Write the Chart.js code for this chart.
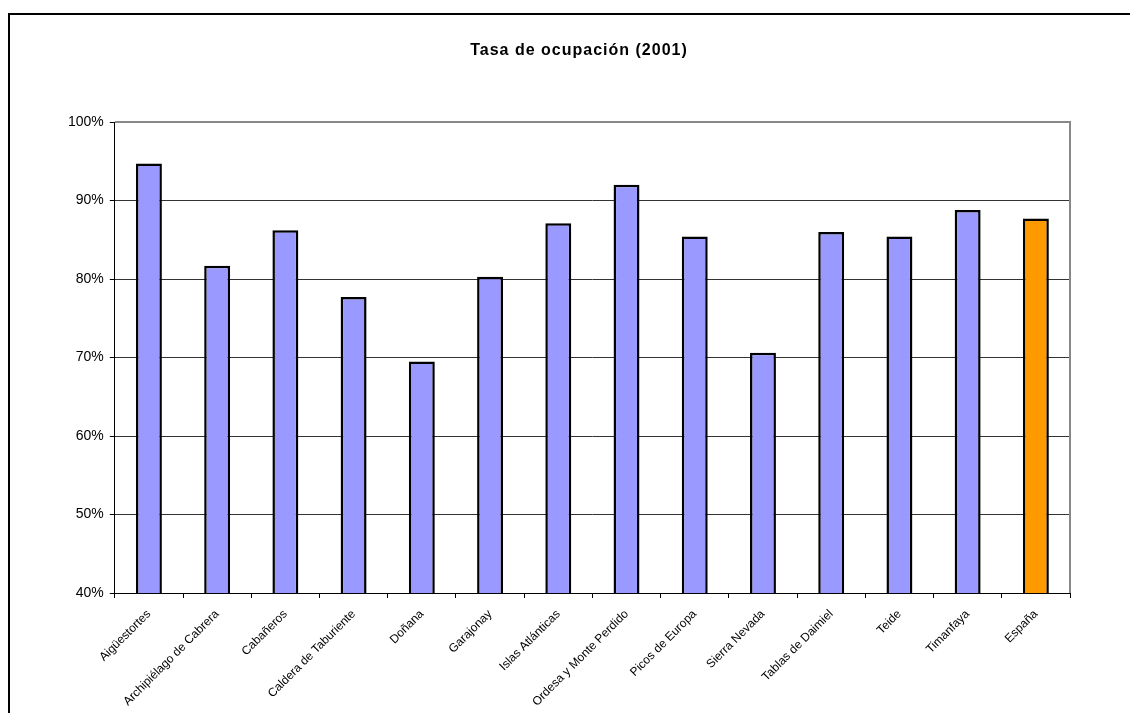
<!DOCTYPE html>
<html>
<head>
<meta charset="utf-8">
<script src="https://cdn.jsdelivr.net/npm/chart.js@4/dist/chart.umd.min.js"></script>
<style>
  html, body { margin: 0; padding: 0; background: #fff; overflow: hidden; }
  #wrap { width: 1130px; height: 713px; position: relative; }
</style>
</head>
<body>
<div id="wrap"><canvas id="chart" width="1130" height="713"></canvas></div>
<script>
const title = "Tasa de ocupación (2001)";

const parques = [
  "Aigüestortes", "Archipiélago de Cabrera", "Cabañeros", "Caldera de Taburiente",
  "Doñana", "Garajonay", "Islas Atlánticas", "Ordesa y Monte Perdido",
  "Picos de Europa", "Sierra Nevada", "Tablas de Daimiel", "Teide",
  "Timanfaya", "España"
];

// tasa de ocupación en %
const ocupacion = [94.7, 81.7, 86.2, 77.7, 69.5, 80.3, 87.1, 92.0, 85.4, 70.6, 86.0, 85.4, 88.8, 87.7];

const barColors = parques.map((p) => (p === "España" ? "#FF9900" : "#9999FF"));

const FONT = "'Liberation Sans', Arial, sans-serif";

// outer frame, title and the grey plot border (top + right)
const decoPlugin = {
  id: "deco",
  beforeDraw(chart) {
    const ctx = chart.ctx;
    ctx.save();
    ctx.strokeStyle = "#000";
    ctx.lineWidth = 2;
    ctx.strokeRect(9, 14, 1200, 800);
    ctx.fillStyle = "#000";
    ctx.font = "bold 16px " + FONT;
    ctx.letterSpacing = "1px";
    ctx.textAlign = "center";
    ctx.textBaseline = "middle";
    ctx.fillText(title, 579, 51);
    ctx.restore();
  },
  afterDatasetsDraw(chart) {
    const { ctx, chartArea } = chart;
    ctx.save();
    ctx.strokeStyle = "#888";
    ctx.lineWidth = 2;
    ctx.beginPath();
    ctx.moveTo(chartArea.left, chartArea.top);
    ctx.lineTo(chartArea.right, chartArea.top);
    ctx.lineTo(chartArea.right, chartArea.bottom);
    ctx.stroke();
    ctx.restore();
  }
};

new Chart(document.getElementById("chart"), {
  type: "bar",
  data: {
    labels: parques,
    datasets: [{
      data: ocupacion,
      backgroundColor: barColors,
      borderColor: "#000",
      borderWidth: 2.5,
      barPercentage: 0.38,
      categoryPercentage: 1.0
    }]
  },
  options: {
    responsive: false,
    animation: false,
    layout: { padding: { top: 122, right: 60, left: 62, bottom: 0 } },
    plugins: {
      legend: { display: false },
      title: { display: false },
      tooltip: { enabled: false }
    },
    scales: {
      y: {
        min: 40,
        max: 100,
        ticks: {
          stepSize: 10,
          color: "#000",
          padding: 6,
          font: { family: FONT, size: 14 },
          callback: (v) => v + "%"
        },
        grid: {
          color: (c) => (c.tick && c.tick.value === 100 ? "rgba(0,0,0,0)" : "#333"),
          lineWidth: 1,
          tickColor: "#000",
          tickLength: 5
        },
        border: { color: "#000", width: 1 }
      },
      x: {
        afterFit: (scale) => { scale.height = 120; },
        ticks: {
          color: "#000",
          maxRotation: 45,
          minRotation: 45,
          padding: 9,
          font: { family: FONT, size: 12 }
        },
        grid: {
          offset: true,
          drawOnChartArea: false,
          tickColor: "#000",
          tickLength: 5
        },
        border: { color: "#000", width: 1 }
      }
    }
  },
  plugins: [decoPlugin]
});
</script>
</body>
</html>
